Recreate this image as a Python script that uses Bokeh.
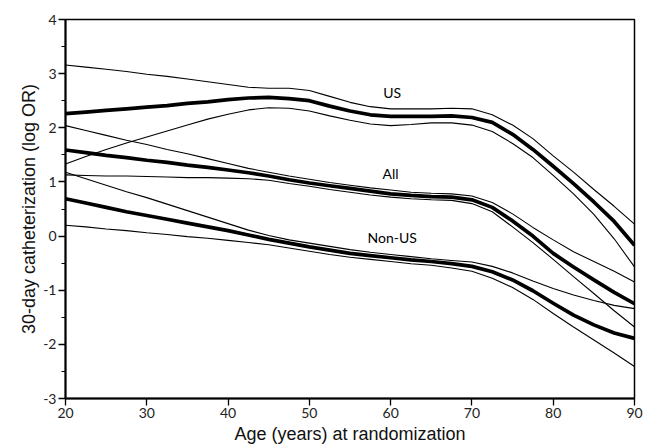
from bokeh.plotting import figure
from bokeh.models import Range1d, FixedTicker, Label, CustomJSTickFormatter
from bokeh.embed import file_html
from bokeh.resources import INLINE

age = [20, 22.5, 25, 27.5, 30, 32.5, 35, 37.5, 40, 42.5, 45, 47.5, 50, 52.5, 55, 57.5,
       60, 62.5, 65, 67.5, 70, 72.5, 75, 77.5, 80, 82.5, 85, 87.5, 90]

us_fit   = [2.26, 2.29, 2.32, 2.35, 2.38, 2.41, 2.45, 2.48, 2.52, 2.55, 2.56, 2.54, 2.50, 2.40, 2.31, 2.24,
            2.21, 2.21, 2.21, 2.22, 2.19, 2.10, 1.88, 1.60, 1.29, 0.97, 0.63, 0.27, -0.17]
us_upper = [3.16, 3.12, 3.08, 3.04, 2.99, 2.95, 2.90, 2.85, 2.80, 2.75, 2.73, 2.73, 2.69, 2.58, 2.47, 2.39,
            2.35, 2.35, 2.35, 2.36, 2.35, 2.24, 2.05, 1.80, 1.48, 1.18, 0.86, 0.55, 0.22]
us_lower = [1.33, 1.47, 1.60, 1.72, 1.83, 1.94, 2.05, 2.16, 2.25, 2.33, 2.37, 2.36, 2.31, 2.22, 2.14, 2.07,
            2.04, 2.06, 2.09, 2.09, 2.05, 1.93, 1.71, 1.45, 1.12, 0.78, 0.40, -0.05, -0.57]

all_fit   = [1.59, 1.54, 1.49, 1.45, 1.40, 1.36, 1.31, 1.27, 1.22, 1.17, 1.11, 1.04, 0.98, 0.93, 0.88, 0.83,
             0.78, 0.75, 0.73, 0.72, 0.67, 0.53, 0.28, 0.00, -0.32, -0.57, -0.81, -1.04, -1.25]
all_upper = [2.04, 1.95, 1.86, 1.77, 1.69, 1.60, 1.52, 1.43, 1.34, 1.25, 1.18, 1.11, 1.05, 0.99, 0.94, 0.89,
             0.85, 0.81, 0.79, 0.78, 0.74, 0.62, 0.41, 0.16, -0.07, -0.29, -0.47, -0.65, -0.85]
all_lower = [1.13, 1.12, 1.11, 1.11, 1.10, 1.09, 1.08, 1.08, 1.07, 1.06, 1.03, 0.97, 0.92, 0.86, 0.81, 0.76,
             0.72, 0.69, 0.67, 0.66, 0.60, 0.45, 0.17, -0.12, -0.43, -0.75, -1.06, -1.38, -1.68]

nonus_fit   = [0.69, 0.61, 0.53, 0.45, 0.38, 0.31, 0.24, 0.17, 0.10, 0.02, -0.06, -0.13, -0.20, -0.26, -0.32, -0.36,
               -0.40, -0.44, -0.47, -0.51, -0.56, -0.66, -0.81, -1.01, -1.24, -1.46, -1.64, -1.79, -1.89]
nonus_upper = [1.18, 1.06, 0.94, 0.82, 0.71, 0.59, 0.47, 0.35, 0.23, 0.11, 0.01, -0.07, -0.13, -0.19, -0.25, -0.30,
               -0.34, -0.38, -0.42, -0.45, -0.48, -0.56, -0.68, -0.83, -0.97, -1.09, -1.19, -1.28, -1.34]
nonus_lower = [0.20, 0.17, 0.13, 0.10, 0.06, 0.03, -0.01, -0.04, -0.08, -0.12, -0.16, -0.22, -0.28, -0.34, -0.39, -0.43,
               -0.47, -0.51, -0.54, -0.59, -0.65, -0.78, -0.95, -1.17, -1.43, -1.68, -1.92, -2.16, -2.41]

group_names = ["US", "All", "Non-US"]
label_age = [60.2, 60.0, 60.2]
label_val = [2.65, 1.15, -0.03]

x_ticks = [20, 30, 40, 50, 60, 70, 80, 90]
y_ticks = [-3, -2, -1, 0, 1, 2, 3, 4]
y_minor = [-2.5, -1.5, -0.5, 0.5, 1.5, 2.5, 3.5]

p = figure(width=649, height=446, output_backend="svg", toolbar_location=None,
           x_range=Range1d(20, 90), y_range=Range1d(-3, 4),
           min_border_left=65, min_border_right=15, min_border_top=19, min_border_bottom=48)

p.xgrid.visible = False
p.ygrid.visible = False
p.background_fill_color = "white"
p.border_fill_color = "white"
p.outline_line_color = "black"
p.outline_line_width = 1.5

thin = dict(line_color="black", line_width=1.1)
thick = dict(line_color="black", line_width=3.7)

for up, lo in [(us_upper, us_lower), (all_upper, all_lower), (nonus_upper, nonus_lower)]:
    p.line(age, up, **thin)
    p.line(age, lo, **thin)
for fit in [us_fit, all_fit, nonus_fit]:
    p.line(age, fit, line_join="round", **thick)

for name, xa, ya in zip(group_names, label_age, label_val):
    p.add_layout(Label(x=xa, y=ya, text=name, text_align="center", text_baseline="middle",
                       text_font="Lato", text_font_size="14px", text_color="black"))

p.xaxis.ticker = FixedTicker(ticks=x_ticks)
p.yaxis.ticker = FixedTicker(ticks=y_ticks, minor_ticks=y_minor)
fmt = CustomJSTickFormatter(code="return tick.toString();")
p.xaxis.formatter = fmt
p.yaxis.formatter = fmt

for ax in [p.xaxis[0], p.yaxis[0]]:
    ax.axis_line_width = 2
    ax.axis_line_color = "black"
    ax.major_tick_line_color = "black"
    ax.major_tick_line_width = 1.3
    ax.major_tick_in = 0
    ax.major_tick_out = 7
    ax.minor_tick_in = 0
    ax.minor_tick_out = 4
    ax.minor_tick_line_color = "black"
    ax.major_label_text_font = "Lato"
    ax.major_label_text_font_size = "14px"
    ax.major_label_text_color = "#222222"
    ax.axis_label_text_font = "Liberation Sans"
    ax.axis_label_text_font_size = "18px"
    ax.axis_label_text_font_style = "normal"
    ax.axis_label_text_color = "#111111"

p.xaxis.minor_tick_line_color = None
p.xaxis.axis_label = "Age (years) at randomization"
p.yaxis.axis_label = "30-day catheterization (log OR)"
p.xaxis.major_label_standoff = 2
p.xaxis.axis_label_standoff = 3
p.yaxis.major_label_standoff = 2
p.yaxis.axis_label_standoff = 1

open("out.html", "w").write(file_html(p, INLINE))
